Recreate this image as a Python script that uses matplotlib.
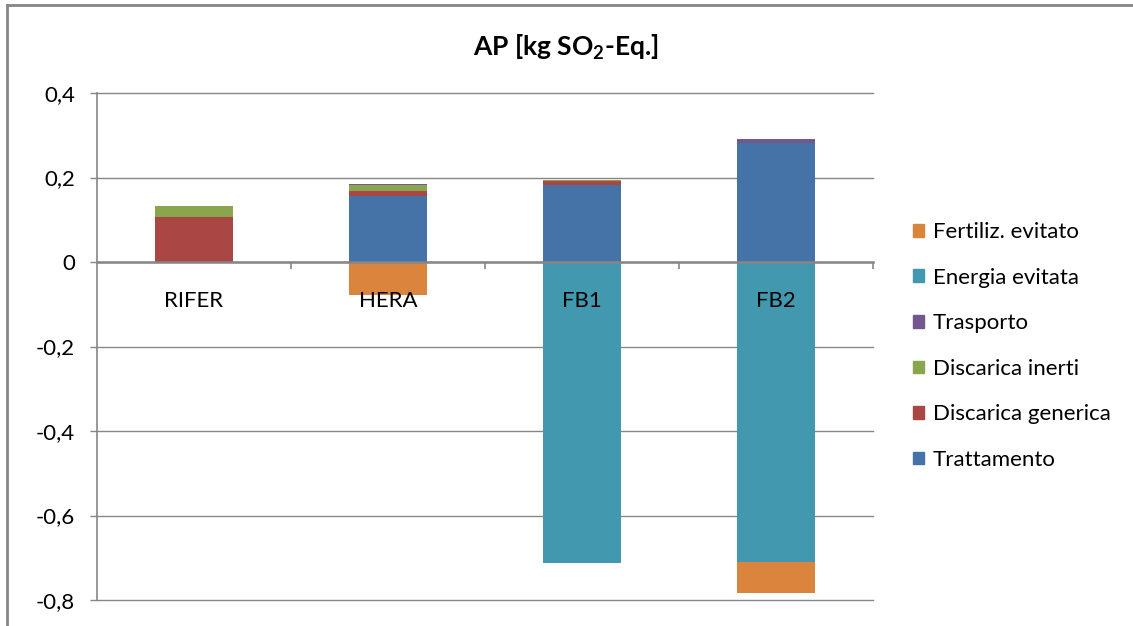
import matplotlib
matplotlib.use("Agg")
import matplotlib.pyplot as plt
import numpy as np
from matplotlib.lines import Line2D
from matplotlib.patches import Patch

plt.rcParams['font.family'] = ['Lato', 'DejaVu Sans']
plt.rcParams['mathtext.fontset'] = 'custom'
plt.rcParams['mathtext.rm'] = 'Lato'
plt.rcParams['mathtext.bf'] = 'Lato:bold'

categories = ["RIFER", "HERA", "FB1", "FB2"]
series_names = ["Trattamento", "Discarica generica", "Discarica inerti",
                "Trasporto", "Energia evitata", "Fertiliz. evitato"]
trattamento = [0.0, 0.157, 0.182, 0.282]
discarica_generica = [0.107, 0.011, 0.010, 0.0]
discarica_inerti = [0.026, 0.014, 0.002, 0.0]
trasporto = [0.0, 0.002, 0.0, 0.008]
energia_evitata = [0.0, 0.0, -0.712, -0.709]
fertiliz_evitato = [0.0, -0.077, 0.0, -0.074]
colors = ["#4572A7", "#AA4643", "#89A54E", "#71588F", "#4198AF", "#DB843D"]
yticks = [0.4, 0.2, 0.0, -0.2, -0.4, -0.6, -0.8]

data = [trattamento, discarica_generica, discarica_inerti, trasporto,
        energia_evitata, fertiliz_evitato]

fig = plt.figure(figsize=(11.33, 6.26), dpi=100)
ax = fig.add_axes([97/1133, 1-600/626, (873-97)/1133, (600-93)/626])

x = np.arange(len(categories))
pos_bottom = np.zeros(len(categories))
neg_bottom = np.zeros(len(categories))
for vals, name, c in zip(data, series_names, colors):
    v = np.array(vals)
    bottoms = np.where(v >= 0, pos_bottom, neg_bottom)
    ax.bar(x, v, bottom=bottoms, width=0.4, color=c, label=name, zorder=3)
    pos_bottom += np.where(v > 0, v, 0)
    neg_bottom += np.where(v < 0, v, 0)

gray = "#868686"
ax.set_xlim(-0.5, 3.5)
ax.set_ylim(-0.8, 0.4)
ax.set_yticks(yticks)
ax.set_yticklabels([("%.1f" % t).replace(".", ",") if t != 0 else "0" for t in yticks])
ax.yaxis.grid(True, color=gray, lw=1.0, zorder=0)
for gl in ax.yaxis.get_gridlines():
    gl.set_clip_on(False)
ax.tick_params(axis='y', length=5, width=1, color=gray, pad=11, labelsize=16, labelcolor='black')

for s in ['top', 'right']:
    ax.spines[s].set_visible(False)
ax.spines['left'].set_color(gray)
ax.spines['left'].set_linewidth(1.2)
ax.spines['bottom'].set_position(('data', 0))
ax.spines['bottom'].set_color(gray)
ax.spines['bottom'].set_linewidth(1.8)
ax.spines['bottom'].set_zorder(4)

ax.set_xticks(x)
ax.set_xticklabels([""] * len(categories))
ax.set_xticks([0.5, 1.5, 2.5, 3.5], minor=True)
ax.tick_params(axis='x', which='major', length=0)
ax.tick_params(axis='x', which='minor', length=5, width=1.2, color=gray)
for xi, cat in zip(x, categories):
    ax.annotate(cat, (xi, 0), xytext=(0, -28), textcoords='offset points',
                ha='center', va='center', fontsize=16, zorder=6)

fig.text(566/1133, 1-47/626, r'AP [kg SO$_\mathbf{2}$-Eq.]', ha='center', va='center',
         fontsize=19, fontweight='bold')

handles = [Patch(color=c) for c in colors][::-1]
labels = series_names[::-1]
fig.legend(handles, labels, loc='center left', bbox_to_anchor=(904/1133, 1-346/626),
           frameon=False, fontsize=16, handlelength=0.5, handleheight=0.5,
           handletextpad=0.4, labelspacing=1.15, borderaxespad=0)

fig.add_artist(Line2D([7/1133, 7/1133], [0, 1-5/626], color=gray, lw=2, transform=fig.transFigure))
fig.add_artist(Line2D([7/1133, 1], [1-5/626, 1-5/626], color=gray, lw=2, transform=fig.transFigure))

fig.savefig("out.png", dpi=100)
